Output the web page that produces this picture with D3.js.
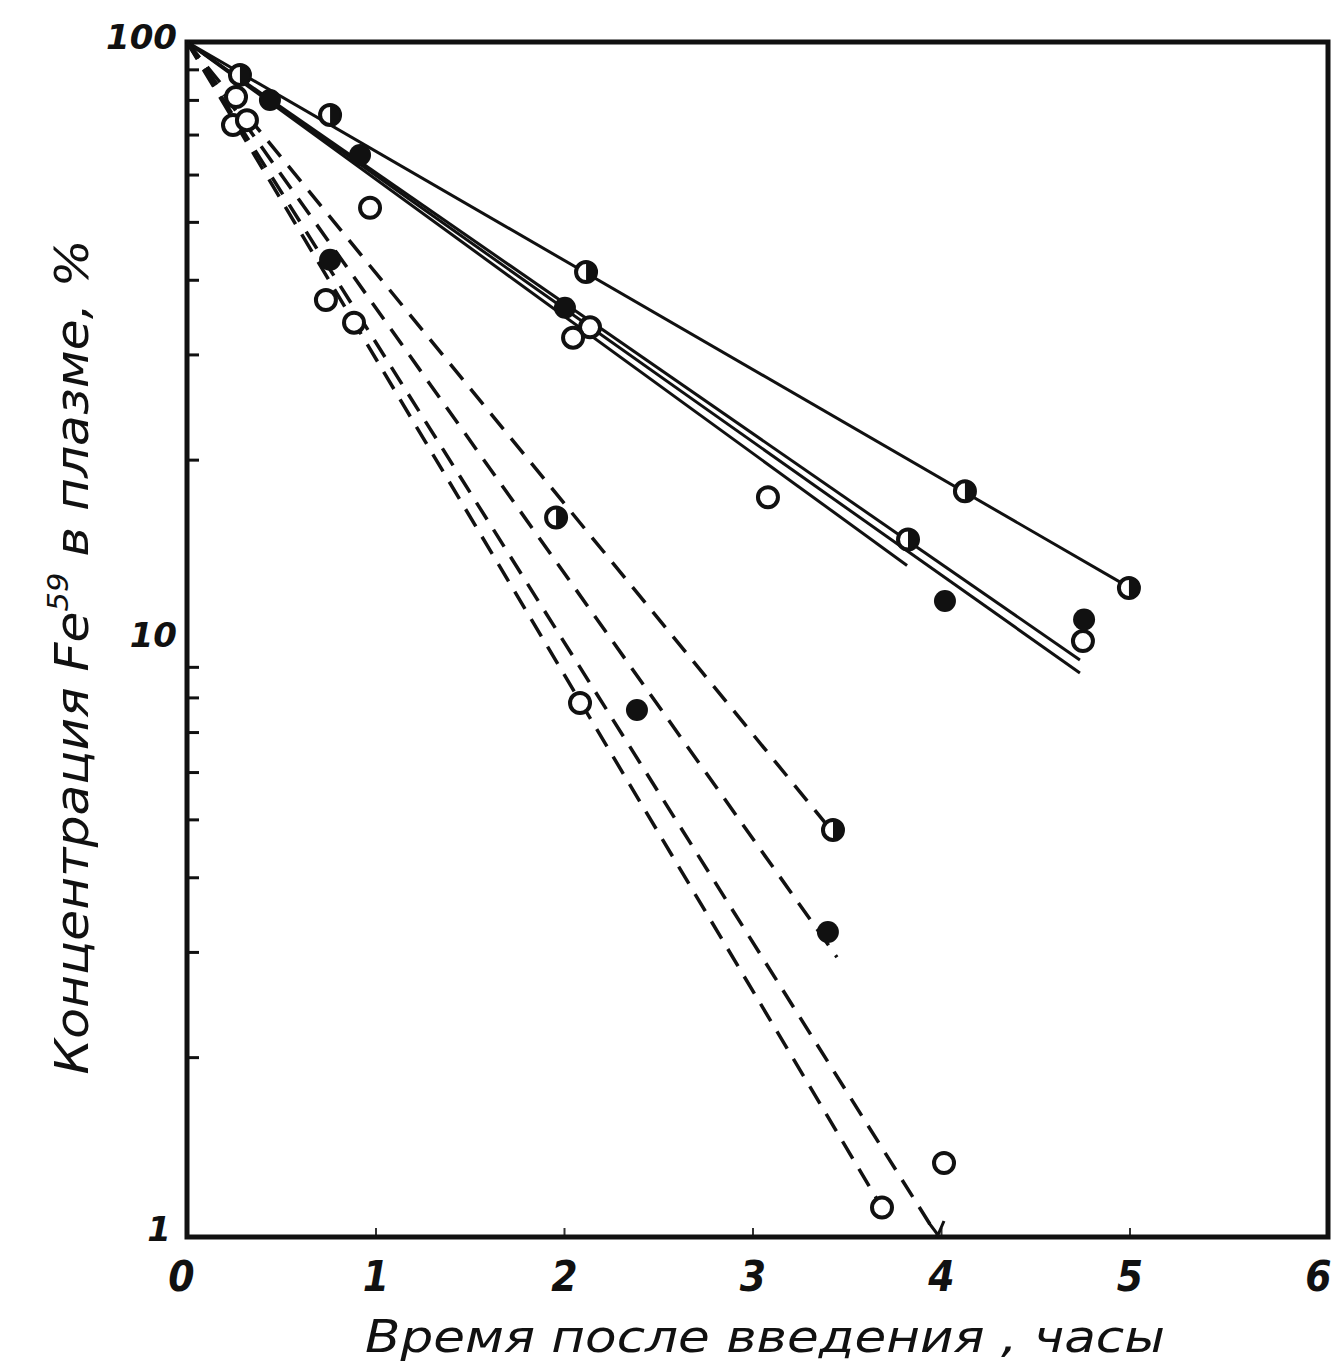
<!DOCTYPE html>
<html>
<head>
<meta charset="utf-8">
<script src="https://cdn.jsdelivr.net/npm/d3@7"></script>
<style>
  html, body { margin: 0; padding: 0; background: #fff; }
  svg text { fill: #111; font-family: "DejaVu Sans", sans-serif; font-stretch: condensed; font-style: italic; }
</style>
</head>
<body>
<div id="chart"></div>
<script>
// data (x = hours, y = % of Fe59 in plasma)
const xTicks = [0, 1, 2, 3, 4, 5, 6]
const yLabels = [100, 10, 1]
const yMinor = [2, 3, 4, 5, 6, 7, 8, 9, 20, 30, 40, 50, 60, 70, 80, 90]

const openPoints = [
  [0.26, 80.9], [0.244, 72.6], [0.318, 74.0], [0.971, 52.8], [0.737, 37.0],
  [0.886, 33.9], [2.138, 33.3], [2.048, 32.0], [3.082, 17.3], [4.753, 9.94],
  [2.085, 7.83], [3.687, 1.12], [4.016, 1.33]
]
const filledPoints = [
  [0.44, 80.0], [0.918, 64.7], [0.759, 43.2], [2.005, 35.9], [4.021, 11.6],
  [4.759, 10.8], [2.387, 7.62], [3.40, 3.24]
]
const halfPoints = [
  [0.281, 88.1], [0.759, 75.5], [2.117, 41.2], [4.127, 17.7], [3.825, 14.7],
  [4.997, 12.2], [1.958, 16.0], [3.427, 4.80]
]

// fitted lines all start at (0, 100)
const solidEnds = [[5.003, 12.2], [3.82, 13.3], [4.737, 9.24], [4.737, 8.79]]
const dashedEnds = [[3.438, 4.71], [3.448, 2.94], [3.687, 1.12]]
const arrowEnd = [3.984, 1.0]

const margin = { top: 42, right: 14, bottom: 125, left: 187 }
const width = 1141
const height = 1195

const svgRoot = d3.select('#chart')
  .append('svg')
  .attr('width', 1342)
  .attr('height', 1362)

svgRoot.append('rect').attr('width', 1342).attr('height', 1362).attr('fill', '#fff')

const svg = svgRoot.append('g')
  .attr('transform', `translate(${margin.left}, ${margin.top})`)

const x = d3.scaleLinear().domain([0, width / 188.5]).range([0, width])
const y = d3.scaleLog().domain([1, 100]).range([height, 0])

// minor ticks on the left, inside the frame
svg.append('g')
  .call(d3.axisRight(y).tickValues(yMinor).tickSize(12).tickFormat(''))
  .call(g => g.select('.domain').remove())
  .selectAll('line').attr('stroke', '#111').attr('stroke-width', 3)

// small ticks on the bottom, inside the frame
svg.append('g')
  .attr('transform', `translate(0, ${height})`)
  .call(d3.axisTop(x).tickValues([1, 2, 3, 4, 5]).tickSize(9).tickFormat(''))
  .call(g => g.select('.domain').remove())
  .selectAll('line').attr('stroke', '#333').attr('stroke-width', 2)

// x tick labels
svg.append('g')
  .attr('transform', `translate(0, ${height})`)
  .call(d3.axisBottom(x).tickValues(xTicks).tickSize(0).tickPadding(24).tickFormat(d3.format('d')))
  .call(g => g.select('.domain').remove())
  .selectAll('text')
  .attr('font-size', 42)
  .attr('font-weight', 'bold')
  .style('font-family', '"DejaVu Sans", sans-serif')
  .attr('dx', (d, i) => i === 0 ? -6 : 0)

// y tick labels
svg.append('g')
  .call(d3.axisLeft(y).tickValues(yLabels).tickSize(0).tickPadding(10).tickFormat(d3.format('d')))
  .call(g => g.select('.domain').remove())
  .selectAll('text')
  .attr('font-size', 34)
  .attr('font-weight', 'bold')
  .style('font-stretch', 'normal')
  .attr('dy', (d, i) => d === 1 ? '0.1em' : '0.2em')
  .attr('dx', d => d === 1 ? -6 : 0)

// frame
svg.append('rect')
  .attr('x', 0).attr('y', 0)
  .attr('width', width).attr('height', height)
  .attr('fill', 'none')
  .attr('stroke', '#111')
  .attr('stroke-width', 5)

const line = d3.line().x(d => x(d[0])).y(d => y(d[1]))

svg.selectAll('.solid')
  .data(solidEnds)
  .enter()
  .append('path')
  .attr('class', 'solid')
  .attr('d', d => line([[0, 100], d]))
  .attr('fill', 'none')
  .attr('stroke', '#111')
  .attr('stroke-width', 3)

svg.selectAll('.dashed')
  .data(dashedEnds.concat([arrowEnd]))
  .enter()
  .append('path')
  .attr('class', 'dashed')
  .attr('d', d => line([[0, 100], d]))
  .attr('fill', 'none')
  .attr('stroke', '#111')
  .attr('stroke-width', 3.5)
  .attr('stroke-dasharray', '20,12')

// little arrow head at the end of the last dashed line
const ax = x(arrowEnd[0])
const ay = y(arrowEnd[1])
svg.append('path')
  .attr('d', `M${ax - 9},${ay - 14} L${ax},${ay - 2} L${ax + 6},${ay - 16}`)
  .attr('fill', 'none')
  .attr('stroke', '#111')
  .attr('stroke-width', 3)

const r = 10

svg.selectAll('.open')
  .data(openPoints)
  .enter()
  .append('circle')
  .attr('cx', d => x(d[0]))
  .attr('cy', d => y(d[1]))
  .attr('r', r)
  .attr('fill', '#fff')
  .attr('stroke', '#111')
  .attr('stroke-width', 4)

svg.selectAll('.filled')
  .data(filledPoints)
  .enter()
  .append('circle')
  .attr('cx', d => x(d[0]))
  .attr('cy', d => y(d[1]))
  .attr('r', r + 1)
  .attr('fill', '#111')

const half = svg.selectAll('.half')
  .data(halfPoints)
  .enter()
  .append('g')
  .attr('transform', d => `translate(${x(d[0])}, ${y(d[1])})`)

half.append('circle')
  .attr('r', r)
  .attr('fill', '#fff')
  .attr('stroke', '#111')
  .attr('stroke-width', 4)

half.append('path')
  .attr('d', `M0,${-r} A${r},${r} 0 0 1 0,${r} Z`)
  .attr('fill', '#111')

// axis titles
svgRoot.append('text')
  .attr('text-anchor', 'middle')
  .attr('x', 765)
  .attr('y', 1352)
  .attr('font-size', 44)
  .attr('textLength', 800)
  .attr('lengthAdjust', 'spacingAndGlyphs')
  .text('Время после введения , часы')

const yTitle = svgRoot.append('text')
  .attr('text-anchor', 'middle')
  .attr('transform', 'translate(88, 657) rotate(-90)')
  .attr('font-size', 46)
  .attr('textLength', 835)
  .attr('lengthAdjust', 'spacingAndGlyphs')

yTitle.append('tspan').text('Концентрация  Fe')
yTitle.append('tspan').attr('dy', -20).attr('font-size', 28).text('59')
yTitle.append('tspan').attr('dy', 20).text(' в плазме, %')
</script>
</body>
</html>
